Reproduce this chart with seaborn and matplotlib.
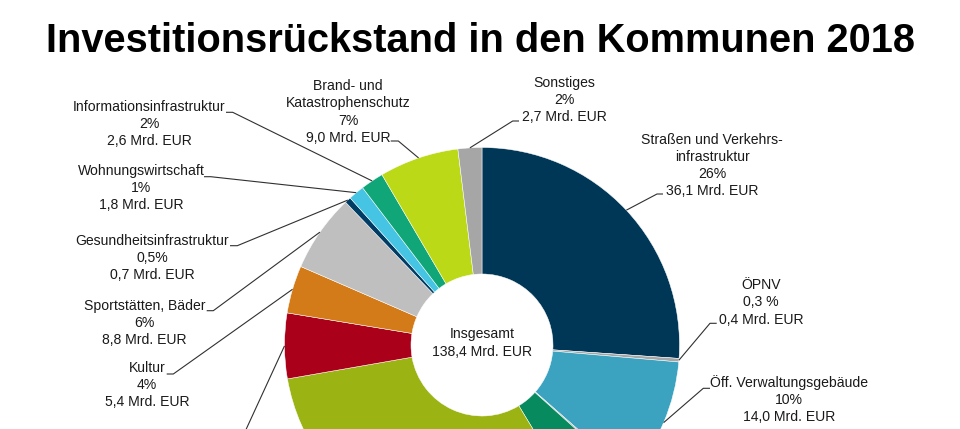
import matplotlib
matplotlib.use("Agg")
import matplotlib.pyplot as plt
import seaborn as sns
import numpy as np

# ---------------- data (clockwise from 12 o'clock) ----------------
categories = [
    "Straßen und Verkehrs-\ninfrastruktur",
    "ÖPNV",
    "Öff. Verwaltungsgebäude",
    "Abfallwirtschaft",
    "Wasserversorgung, Abwasserentsorgung",
    "Schulen, Erwachsenenbildung",
    "Kinderbetreuung",
    "Kultur",
    "Sportstätten, Bäder",
    "Gesundheitsinfrastruktur",
    "Wohnungswirtschaft",
    "Informationsinfrastruktur",
    "Brand- und\nKatastrophenschutz",
    "Sonstiges",
]
values = [36.1, 0.4, 14.0, 0.2, 6.5, 42.8, 7.4, 5.4, 8.8, 0.7, 1.8, 2.6, 9.0, 2.7]
pct_labels = ["26%", "0,3 %", "10%", "", "", "", "", "4%", "6%", "0,5%", "1%", "2%", "7%", "2%"]
total_label = "Insgesamt\n138,4 Mrd. EUR"
title = "Investitionsrückstand in den Kommunen 2018"

colors = ["#003757", "#a6a6a6", "#3ba3bf", "#a6a6a6", "#078a5e", "#9bb313",
          "#aa001a", "#d47b19", "#bfbfbf", "#003c64", "#45c4e3", "#10a678",
          "#bbd916", "#a6a6a6"]

# ---------------- layout (pixel coordinates, y downwards) ----------------
W, H = 960, 429
CX, CY = 482.0, 345.0
R_OUT, R_IN = 197.5, 71.0

# index: (text centre, elbow point, stub end)
label_layout = {
    0: ((712, 165.5), (657, 194), (663, 194)),
    1: ((761, 302.5), (710, 323.3), (716.7, 323.3)),
    2: ((789, 399.3), (703.3, 388.3), (710, 388.3)),
    7: ((147, 385), (173.3, 374), (166.7, 374)),
    8: ((144.5, 323.3), (213.3, 310.7), (206.7, 310.7)),
    9: ((152, 258.3), (237.3, 245.7), (230, 245.7)),
    10: ((141, 188), (210.7, 176.7), (204, 176.7)),
    11: ((149, 124.3), (232.7, 112.3), (226, 112.3)),
    12: ((348, 112), (398.3, 141), (390.7, 141)),
    13: ((564, 99.7), (512.7, 121), (519, 121)),
}
# leader line of a slice whose label lies below the visible area
offcanvas_leaders = {6: (232, 460)}


def P(x, y):
    return x, H - y


sns.set_theme(style="white")
plt.rcParams["font.family"] = ["Liberation Sans", "DejaVu Sans"]

fig = plt.figure(figsize=(W / 100, H / 100), dpi=100)
ax = fig.add_axes([0, 0, 1, 1])

pal = sns.color_palette(colors)
wedges, _ = ax.pie(
    values,
    colors=pal,
    startangle=90,
    counterclock=False,
    center=P(CX, CY),
    radius=R_OUT,
    frame=True,
    wedgeprops=dict(width=R_OUT - R_IN, edgecolor="white", linewidth=0.35),
)

ax.set_xlim(0, W)
ax.set_ylim(0, H)
ax.set_aspect("equal")
ax.axis("off")

cx_d, cy_d = P(CX, CY)


def anchor(w):
    th = np.deg2rad((w.theta1 + w.theta2) / 2.0)
    return cx_d + R_OUT * np.cos(th), cy_d + R_OUT * np.sin(th)


txt_kw = dict(ha="center", va="center", fontsize=10.1, color="#1a1a1a", linespacing=1.28)
line_kw = dict(color="#303030", lw=0.8, solid_capstyle="butt", zorder=1)

for i, (tc, elbow, stub) in label_layout.items():
    amount = f"{values[i]:.1f}".replace(".", ",") + " Mrd. EUR"
    s = f"{categories[i]}\n{pct_labels[i]}\n{amount}"
    ax.text(*P(*tc), s, **txt_kw)
    ax0, ay0 = anchor(wedges[i])
    ex, ey = P(*elbow)
    sx, sy = P(*stub)
    ax.plot([ax0, ex, sx], [ay0, ey, sy], **line_kw)

for i, far in offcanvas_leaders.items():
    ax0, ay0 = anchor(wedges[i])
    fx, fy = P(*far)
    ax.plot([ax0, fx], [ay0, fy], clip_on=False, **line_kw)

ax.text(cx_d, H - 343, total_label, **txt_kw)

ax.text(481, H - 51.7, title, ha="center", va="baseline", fontsize=28.6,
        fontweight="bold", color="black")

fig.savefig("out.png", dpi=100)
